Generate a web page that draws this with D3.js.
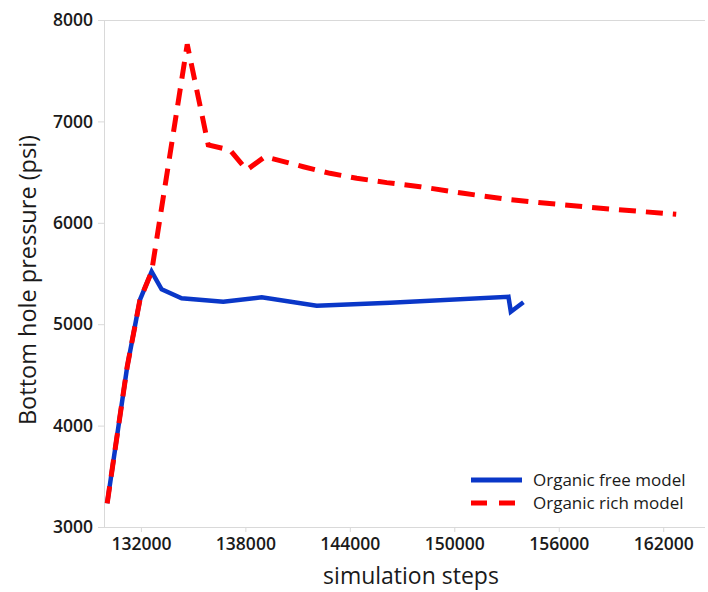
<!DOCTYPE html>
<html>
<head>
<meta charset="utf-8">
<script src="https://cdn.jsdelivr.net/npm/d3@7/dist/d3.min.js"></script>
<style>
  html, body { margin: 0; padding: 0; background: #fff; }
  svg { display: block; font-family: "Open Sans", "Noto Sans", sans-serif; }
</style>
</head>
<body>
<svg id="chart" width="708" height="592"></svg>
<script>
// ---- data ----
const freeSteps = [130063, 131213, 131943, 132615, 133190, 134339, 136730, 138937, 142098, 146310, 153109, 153247, 153971];
const freePressure = [3234, 4581, 5239, 5518, 5344, 5255, 5222, 5265, 5182, 5212, 5271, 5123, 5216];

const richSteps = [130063, 131213, 131943, 132615, 134661, 135868, 137115, 138075, 139126, 141328, 142862, 144397, 146121, 148034, 150523, 153017, 155316, 159144, 162747];
const richPressure = [3234, 4581, 5239, 5518, 7760, 6767, 6718, 6521, 6652, 6553, 6488, 6439, 6396, 6356, 6291, 6232, 6192, 6133, 6084];

const xTicks = [132000, 138000, 144000, 150000, 156000, 162000];
const yTicks = [3000, 4000, 5000, 6000, 7000, 8000];

const seriesNames = ["Organic free model", "Organic rich model"];
const seriesColors = ["#0a37c8", "#ff0000"];

// ---- layout ----
const svg = d3.select("#chart");
const mLeft = 104, mRight = 705, mTop = 20, mBottom = 527;

const x = d3.scaleLinear().domain([129880, 164400]).range([mLeft, mRight]);
const y = d3.scaleLinear().domain([3000, 8000]).range([mBottom, mTop]);

const axisColor = "#d9d9d9";

// top frame line
svg.append("line")
  .attr("x1", mLeft).attr("x2", mRight)
  .attr("y1", mTop + 0.5).attr("y2", mTop + 0.5)
  .attr("stroke", axisColor).attr("stroke-width", 1);

// x axis
const xAxis = svg.append("g")
  .attr("transform", `translate(0,${mBottom})`)
  .call(d3.axisBottom(x).tickValues(xTicks).tickFormat(d3.format("d")).tickSize(5).tickPadding(6).tickSizeOuter(0));
xAxis.select(".domain").attr("stroke", axisColor).attr("d", `M${mLeft},0.5H${mRight}`);
xAxis.selectAll(".tick line").attr("stroke", axisColor);
xAxis.selectAll(".tick text")
  .attr("fill", "#1a1a1a").attr("font-size", 17.5).attr("font-weight", 600)
  .attr("font-family", "'Open Sans', sans-serif");

// y axis
const yAxis = svg.append("g")
  .attr("transform", `translate(${mLeft},0)`)
  .call(d3.axisLeft(y).tickValues(yTicks).tickFormat(d3.format("d")).tickSize(6).tickPadding(5).tickSizeOuter(0));
yAxis.select(".domain").attr("stroke", axisColor);
yAxis.selectAll(".tick line").attr("stroke", axisColor);
yAxis.selectAll(".tick text")
  .attr("fill", "#1a1a1a").attr("font-size", 17.5).attr("font-weight", 600)
  .attr("font-family", "'Open Sans', sans-serif");

// axis titles
svg.append("text")
  .attr("x", 411).attr("y", 584)
  .attr("text-anchor", "middle")
  .attr("font-size", 23).attr("fill", "#1a1a1a")
  .text("simulation steps");

svg.append("text")
  .attr("transform", "translate(36,280) rotate(-90)")
  .attr("text-anchor", "middle")
  .attr("font-size", 23.5).attr("fill", "#1a1a1a")
  .text("Bottom hole pressure (psi)");

// lines
const line = d3.line().x(d => x(d[0])).y(d => y(d[1])).curve(d3.curveLinear);
const freeData = freeSteps.map((s, i) => [s, freePressure[i]]);
const richData = richSteps.map((s, i) => [s, richPressure[i]]);

svg.append("path")
  .datum(freeData)
  .attr("d", line)
  .attr("fill", "none")
  .attr("stroke", seriesColors[0])
  .attr("stroke-width", 4.5)
  .attr("stroke-linejoin", "miter");

svg.append("path")
  .datum(richData)
  .attr("d", line)
  .attr("fill", "none")
  .attr("stroke", seriesColors[1])
  .attr("stroke-width", 5)
  .attr("stroke-dasharray", "17,10")
  .attr("stroke-linejoin", "miter");

// legend
const legend = svg.append("g");
const legendRows = [
  { name: seriesNames[0], color: seriesColors[0], dash: null, y: 480 },
  { name: seriesNames[1], color: seriesColors[1], dash: "16,12", y: 503 }
];
legendRows.forEach(r => {
  legend.append("line")
    .attr("x1", 471).attr("x2", 522)
    .attr("y1", r.y).attr("y2", r.y)
    .attr("stroke", r.color).attr("stroke-width", 5)
    .attr("stroke-dasharray", r.dash);
  legend.append("text")
    .attr("x", 533).attr("y", r.y + 6)
    .attr("font-size", 17).attr("fill", "#1a1a1a")
    .text(r.name);
});
</script>
</body>
</html>
